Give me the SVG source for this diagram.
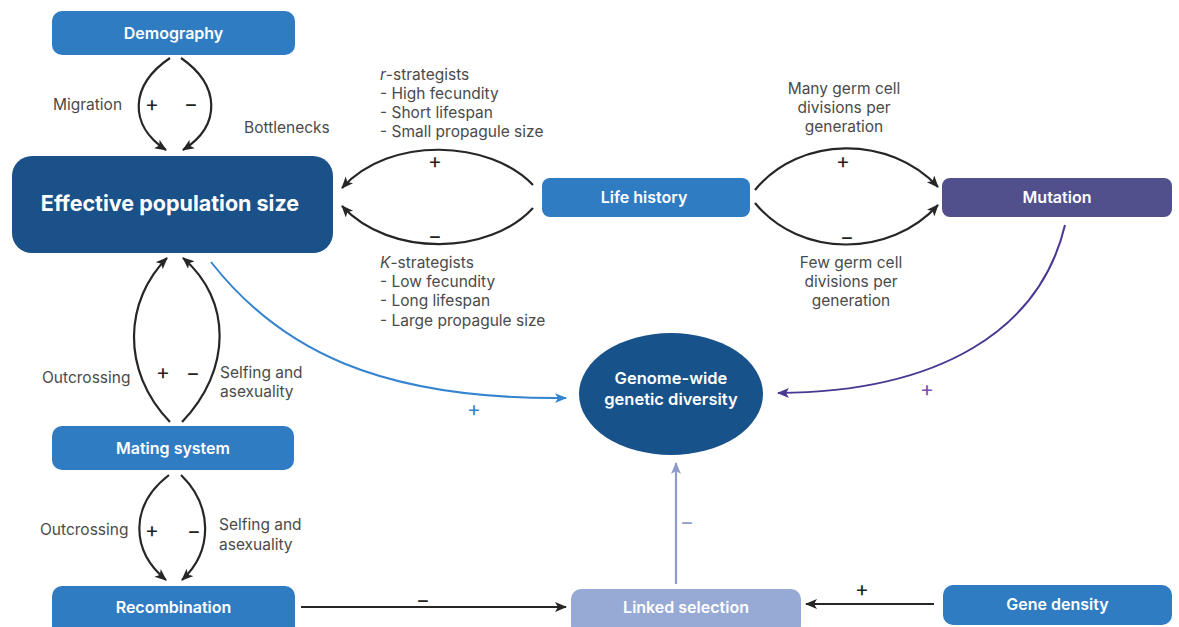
<svg xmlns="http://www.w3.org/2000/svg" width="1179" height="627" viewBox="0 0 1179 627">
  <style>
    .node-label { font-family: Inter, "Liberation Sans", sans-serif; font-weight: 600; font-size: 16px; fill: #ffffff; text-anchor: middle; }
    .note { font-family: Inter, "Liberation Sans", sans-serif; font-size: 15.5px; fill: #4a4a4a; }
    .sign { font-family: Inter, "Liberation Sans", sans-serif; font-size: 21px; fill: #222222; text-anchor: middle; }
    .link { fill: none; stroke: #262626; stroke-width: 2.2; }
  </style>
  <defs>
    <marker id="arrowDark" markerUnits="userSpaceOnUse" markerWidth="14" markerHeight="12" refX="11" refY="5" orient="auto">
      <path d="M0,0 L12,5 L0,10 L3,5 z" fill="#262626"/>
    </marker>
    <marker id="arrowBlue" markerUnits="userSpaceOnUse" markerWidth="14" markerHeight="12" refX="11" refY="5" orient="auto">
      <path d="M0,0 L12,5 L0,10 L3,5 z" fill="#3584cf"/>
    </marker>
    <marker id="arrowPurple" markerUnits="userSpaceOnUse" markerWidth="14" markerHeight="12" refX="11" refY="5" orient="auto">
      <path d="M0,0 L12,5 L0,10 L3,5 z" fill="#4a3791"/>
    </marker>
    <marker id="arrowLight" markerUnits="userSpaceOnUse" markerWidth="14" markerHeight="12" refX="11" refY="5" orient="auto">
      <path d="M0,0 L12,5 L0,10 L3,5 z" fill="#8d9cc8"/>
    </marker>
  </defs>

  <rect width="1179" height="627" fill="#ffffff"/>

  <!-- connectors -->
  <g id="connectors">
    <!-- Demography -> Effective population size -->
    <path class="link" d="M170,58 C130,85 128,125 166,150" marker-end="url(#arrowDark)"/>
    <path class="link" d="M181,58 C220,85 222,125 183,150" marker-end="url(#arrowDark)"/>
    <!-- Life history -> Effective population size -->
    <path class="link" d="M533,185 C490,140 390,135 342,188" marker-end="url(#arrowDark)"/>
    <path class="link" d="M533,208 C490,255 390,258 342,206" marker-end="url(#arrowDark)"/>
    <!-- Life history -> Mutation -->
    <path class="link" d="M755,190 C800,135 890,135 938,187" marker-end="url(#arrowDark)"/>
    <path class="link" d="M755,203 C800,258 890,258 938,205" marker-end="url(#arrowDark)"/>
    <!-- Mating system -> Effective population size -->
    <path class="link" d="M170,422 C120,370 125,300 167,258" marker-end="url(#arrowDark)"/>
    <path class="link" d="M182,422 C232,370 232,300 183,258" marker-end="url(#arrowDark)"/>
    <!-- Mating system -> Recombination -->
    <path class="link" d="M169,475 C130,505 130,550 166,580" marker-end="url(#arrowDark)"/>
    <path class="link" d="M181,475 C212,505 214,550 182,580" marker-end="url(#arrowDark)"/>
    <!-- Recombination -> Linked selection -->
    <path class="link" d="M301,607 L566,607" marker-end="url(#arrowDark)"/>
    <!-- Gene density -> Linked selection -->
    <path class="link" d="M934,604 L806,604" marker-end="url(#arrowDark)"/>
    <!-- Effective population size -> diversity -->
    <path d="M211,262 C280,350 380,400 566,398" fill="none" stroke="#3584cf" stroke-width="2" marker-end="url(#arrowBlue)"/>
    <!-- Mutation -> diversity -->
    <path d="M1065,225 C1040,330 940,392 778,393" fill="none" stroke="#4a3791" stroke-width="2" marker-end="url(#arrowPurple)"/>
    <!-- Linked selection -> diversity -->
    <path d="M676,584 L676,463" fill="none" stroke="#8d9cc8" stroke-width="2.2" marker-end="url(#arrowLight)"/>
  </g>

  <!-- edge labels -->
  <g id="edge-labels">
    <text class="note" x="53" y="110">Migration</text>
    <text class="sign" x="152" y="111">+</text>
    <text class="sign" x="191" y="111">−</text>
    <text class="note" x="244" y="133">Bottlenecks</text>

    <text class="note" x="380" y="80"><tspan font-style="italic">r</tspan>-strategists</text>
    <text class="note" x="380" y="99">- High fecundity</text>
    <text class="note" x="380" y="118">- Short lifespan</text>
    <text class="note" x="380" y="137">- Small propagule size</text>
    <text class="sign" x="435" y="168">+</text>
    <text class="sign" x="435" y="243">−</text>
    <text class="note" x="380" y="268"><tspan font-style="italic">K</tspan>-strategists</text>
    <text class="note" x="380" y="287">- Low fecundity</text>
    <text class="note" x="380" y="306">- Long lifespan</text>
    <text class="note" x="380" y="326">- Large propagule size</text>

    <text class="note" x="844" y="94" text-anchor="middle">Many germ cell</text>
    <text class="note" x="844" y="113" text-anchor="middle">divisions per</text>
    <text class="note" x="844" y="132" text-anchor="middle">generation</text>
    <text class="sign" x="843" y="168">+</text>
    <text class="sign" x="847" y="244">−</text>
    <text class="note" x="851" y="268" text-anchor="middle">Few germ cell</text>
    <text class="note" x="851" y="287" text-anchor="middle">divisions per</text>
    <text class="note" x="851" y="306" text-anchor="middle">generation</text>

    <text class="note" x="42" y="383">Outcrossing</text>
    <text class="sign" x="163" y="379">+</text>
    <text class="sign" x="193" y="380">−</text>
    <text class="note" x="220" y="378">Selfing and</text>
    <text class="note" x="220" y="397">asexuality</text>

    <text class="note" x="40" y="535">Outcrossing</text>
    <text class="sign" x="152" y="537">+</text>
    <text class="sign" x="194" y="538">−</text>
    <text class="note" x="219" y="530">Selfing and</text>
    <text class="note" x="219" y="550">asexuality</text>

    <text class="sign" x="474" y="416" style="fill:#3584cf">+</text>
    <text class="sign" x="927" y="396" style="fill:#7a4fb0">+</text>
    <text class="sign" x="687" y="529" style="fill:#8d9cc8">−</text>
    <text class="sign" x="423" y="607">−</text>
    <text class="sign" x="862" y="596">+</text>
  </g>

  <!-- nodes -->
  <g id="demography">
    <rect x="52" y="11" width="243" height="44" rx="10" fill="#2f7cc2"/>
    <text class="node-label" x="173.5" y="39">Demography</text>
  </g>
  <g id="effective-population-size">
    <rect x="12" y="156" width="321" height="97" rx="20" fill="#1a5189"/>
    <text class="node-label" x="170" y="211" style="font-size:21.5px;font-weight:700">Effective population size</text>
  </g>
  <g id="life-history">
    <rect x="542" y="178" width="208" height="39" rx="8" fill="#2f7cc2"/>
    <text class="node-label" x="644" y="203">Life history</text>
  </g>
  <g id="mutation">
    <rect x="942" y="178" width="230" height="39" rx="8" fill="#514f8c"/>
    <text class="node-label" x="1057" y="203">Mutation</text>
  </g>
  <g id="genetic-diversity">
    <ellipse cx="671" cy="394" rx="92" ry="61" fill="#18528a"/>
    <text class="node-label" x="671" y="384" style="font-size:16.5px">Genome-wide</text>
    <text class="node-label" x="671" y="405" style="font-size:16.5px">genetic diversity</text>
  </g>
  <g id="mating-system">
    <rect x="52" y="426" width="242" height="44" rx="10" fill="#2f7cc2"/>
    <text class="node-label" x="173" y="454">Mating system</text>
  </g>
  <g id="recombination">
    <rect x="52" y="586" width="243" height="50" rx="10" fill="#2f7cc2"/>
    <text class="node-label" x="173.5" y="613">Recombination</text>
  </g>
  <g id="linked-selection">
    <rect x="571" y="589" width="230" height="46" rx="10" fill="#97aad5"/>
    <text class="node-label" x="686" y="613">Linked selection</text>
  </g>
  <g id="gene-density">
    <rect x="943" y="585" width="229" height="40" rx="10" fill="#2f7cc2"/>
    <text class="node-label" x="1057.5" y="610">Gene density</text>
  </g>
</svg>
